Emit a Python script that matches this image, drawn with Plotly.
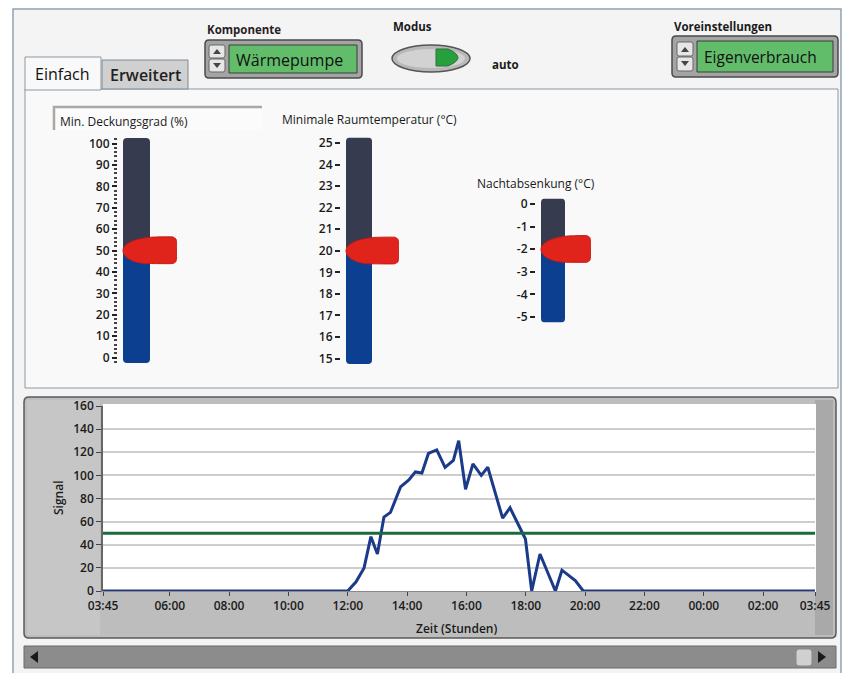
import numpy as np
import plotly.graph_objects as go

W, H = 851, 673
FONT = "Open Sans"

# ---------------- data ----------------
zeit_h = [3.75, 12.0, 12.28, 12.55, 12.78, 13.0, 13.22, 13.44, 13.78, 14.06, 14.28,
          14.5, 14.72, 15.0, 15.28, 15.56, 15.74, 15.97, 16.22, 16.5, 16.72, 17.22,
          17.47, 17.99, 18.2, 18.48, 19.0, 19.22, 19.67, 19.94, 27.75]
signal = [0, 0, 8, 20, 47, 32, 64, 68, 90, 96, 103,
          102, 119, 122, 107, 113, 130, 88, 110, 100, 107, 63,
          72, 45, 0, 32, 0, 18, 9, 0, 0]
schwellwert = 50
x_tickvals = [3.75, 6, 8, 10, 12, 14, 16, 18, 20, 22, 24, 26, 27.75]
x_ticktext = ["03:45", "06:00", "08:00", "10:00", "12:00", "14:00", "16:00",
              "18:00", "20:00", "22:00", "00:00", "02:00", "03:45"]
y_tickvals = [0, 20, 40, 60, 80, 100, 120, 140, 160]

slider_labels = ["Min. Deckungsgrad (%)", "Minimale Raumtemperatur (°C)", "Nachtabsenkung (°C)"]
slider_values = [50, 20, -2]
slider_min = [0, 15, -5]
slider_max = [100, 25, 0]
slider_dtick = [10, 1, 1]

komponente = "Wärmepumpe"
modus = "auto"
voreinstellung = "Eigenverbrauch"
tabs = ["Einfach", "Erweitert"]

# ---------------- helpers ----------------
def px(x):
    return x / W

def py(y):
    return 1 - y / H

def pt(x, y):
    return f"{px(x):.5f},{py(y):.5f}"

def rrect_path(x0, y0, x1, y1, r):
    return (f"M{pt(x0 + r, y0)} L{pt(x1 - r, y0)} Q{pt(x1, y0)} {pt(x1, y0 + r)} "
            f"L{pt(x1, y1 - r)} Q{pt(x1, y1)} {pt(x1 - r, y1)} L{pt(x0 + r, y1)} "
            f"Q{pt(x0, y1)} {pt(x0, y1 - r)} L{pt(x0, y0 + r)} Q{pt(x0, y0)} {pt(x0 + r, y0)} Z")

shapes = []
annotations = []

def add_rect(x0, y0, x1, y1, fill, line=None, lw=1, r=0, layer="below"):
    ln = dict(color=line, width=lw) if line else dict(width=0)
    if r:
        shapes.append(dict(type="path", xref="paper", yref="paper",
                           path=rrect_path(x0, y0, x1, y1, r), fillcolor=fill,
                           line=ln, layer=layer))
    else:
        shapes.append(dict(type="rect", xref="paper", yref="paper",
                           x0=px(x0), x1=px(x1), y0=py(y1), y1=py(y0),
                           fillcolor=fill, line=ln, layer=layer))

def add_path(points, fill, line=None, lw=1, close=True, layer="below"):
    p = "M" + " L".join(pt(x, y) for x, y in points) + (" Z" if close else "")
    ln = dict(color=line, width=lw) if line else dict(width=0)
    shapes.append(dict(type="path", xref="paper", yref="paper", path=p,
                       fillcolor=fill if close else None, line=ln, layer=layer))

def add_text(x, y, text, size=11, color="#1a1a1a", weight="normal", xanchor="left",
             yanchor="middle", angle=0):
    annotations.append(dict(x=px(x), y=py(y), xref="paper", yref="paper", text=text,
                            showarrow=False, xanchor=xanchor, yanchor=yanchor,
                            textangle=angle,
                            font=dict(family=FONT, size=size, color=color, weight=weight)))

# ---------------- UI frame ----------------
add_rect(13, 9, 841, 680, "#f4f4f4", "#8fa2b3", 1.5)
# tab panel
add_rect(25, 89, 838, 388, "#f9f9f9", "#8b99a5", 1)
# tabs
add_rect(102, 60, 188, 89, "#d0d0d0", "#7d8b97", 1)
add_path([(25, 90), (25, 57), (101, 57), (101, 90)], "#f9f9f9", "#8b99a5", 1)
add_text(62, 74, tabs[0], size=16, color="#111", xanchor="center")
add_text(145, 75, tabs[1], size=16, color="#222", xanchor="center", weight=600)

# Komponente control
add_text(205, 30, "Komponente", size=11.5, color="#2a1f1f", weight="bold")
add_rect(205, 40, 362, 78, "#a4a4a4", "#4a4a4a", 1.5, r=4)
add_rect(229, 45, 357, 73, "#62bd6b", "#3d3d3d", 1)
add_text(234, 60, komponente, size=16, color="#111")
add_rect(209, 45, 225, 58, "#e6e6e6", "#666", 1, r=2)
add_rect(209, 59, 225, 72, "#e6e6e6", "#666", 1, r=2)
add_path([(213, 54), (217, 49), (221, 54)], "#444")
add_path([(213, 63), (217, 68), (221, 63)], "#444")

# Modus toggle
add_text(412, 27, "Modus", size=11.5, color="#1a1a1a", weight="bold", xanchor="center")
shapes.append(dict(type="circle", xref="paper", yref="paper", x0=px(392), x1=px(470),
                   y0=py(72), y1=py(45), fillcolor="#b8b8b8",
                   line=dict(color="#555", width=1.5), layer="below"))
shapes.append(dict(type="circle", xref="paper", yref="paper", x0=px(397), x1=px(465),
                   y0=py(68), y1=py(49), fillcolor="#d2d2d2",
                   line=dict(width=0), layer="below"))
shapes.append(dict(type="path", xref="paper", yref="paper",
                   path=f"M{pt(436, 49)} L{pt(448, 49)} Q{pt(468, 57.5)} {pt(448, 66)} L{pt(436, 66)} Z",
                   fillcolor="#24a03c", line=dict(color="#3a6a3a", width=1), layer="below"))
add_text(490, 64, modus, size=11.5, color="#1a1a1a", weight="bold")

# Voreinstellungen control
add_text(672, 27, "Voreinstellungen", size=11.5, color="#1a1a1a", weight="bold")
add_rect(672, 36, 838, 77, "#a4a4a4", "#4a4a4a", 1.5, r=4)
add_rect(697, 41, 833, 72, "#62bd6b", "#3d3d3d", 1)
add_text(702, 57, voreinstellung, size=15.5, color="#111")
add_rect(677, 42, 693, 56, "#e6e6e6", "#666", 1, r=2)
add_rect(677, 57, 693, 71, "#e6e6e6", "#666", 1, r=2)
add_path([(681, 52), (685, 47), (689, 52)], "#444")
add_path([(681, 61), (685, 66), (689, 61)], "#444")

# slider label box (first slider)
add_rect(54, 107, 262, 130, "#fbfbfb")
add_path([(54, 130), (54, 107), (262, 107)], None, "#a8a8a8", 2.5, close=False)

# chart panel
add_rect(24, 397, 836, 638, "#bdbdbd", "#5a5a5a", 1.5, r=5)
add_rect(27, 400, 100, 635, "#c6c6c6")
add_rect(815, 400, 833, 635, "#a9a9a9")
add_rect(103, 404, 816, 592, "#ffffff")

# scrollbar
add_rect(24, 646, 836, 668, "#8c8c8c", "#6a6a6a", 1)
add_path([(38, 651), (30, 657), (38, 663)], "#1a1a1a")
add_path([(818, 651), (826, 657), (818, 663)], "#1a1a1a")
add_rect(796, 649, 812, 666, "#d0d0d0", "#888", 1, r=3)

# ---------------- figure ----------------
fig = go.Figure()

fig.add_trace(go.Scatter(x=zeit_h, y=signal, mode="lines", xaxis="x", yaxis="y",
                         line=dict(color="#1b3a8a", width=3), cliponaxis=False,
                         showlegend=False))
fig.add_trace(go.Scatter(x=[x_tickvals[0], x_tickvals[-1]], y=[schwellwert, schwellwert],
                         mode="lines", xaxis="x", yaxis="y",
                         line=dict(color="#1a6b3c", width=3), showlegend=False))

TICKFONT = dict(family=FONT, size=12, color="#1a1a1a", weight=600)

layout_axes = {}
layout_axes["xaxis"] = dict(domain=[px(103), px(815)], range=[x_tickvals[0], x_tickvals[-1]],
                            tickvals=x_tickvals, ticktext=x_ticktext, ticks="outside",
                            ticklen=4, tickcolor="#444", showgrid=False, zeroline=False,
                            showline=True, linecolor="#8a8a8a", linewidth=1,
                            tickfont=TICKFONT, automargin=False,
                            anchor="y", fixedrange=True)
layout_axes["yaxis"] = dict(domain=[py(591), py(406)], range=[0, 160],
                            tickvals=y_tickvals, ticks="outside", ticklen=5,
                            tickcolor="#444", showgrid=True, gridcolor="#cdcdcd",
                            gridwidth=1.5, zeroline=False, showline=True,
                            linecolor="#666", linewidth=1.5,
                            tickfont=TICKFONT, automargin=False,
                            anchor="x", fixedrange=True)
add_text(58, 497, "Signal", size=12, color="#1a1a1a", xanchor="center", angle=-90, weight=600)
add_text(456, 628, "Zeit (Stunden)", size=12, color="#1a1a1a", xanchor="center", weight=600)

# sliders
geom = [dict(bar_l=123, bar_r=150, ptr_r=177, ymax_px=143.5, ymin_px=357.5,
             lab_x=58, lab_y=121),
        dict(bar_l=346, bar_r=372, ptr_r=399, ymax_px=143, ymin_px=358.5,
             lab_x=280, lab_y=119),
        dict(bar_l=541, bar_r=565, ptr_r=591, ymax_px=204, ymin_px=317,
             lab_x=475, lab_y=184)]
pad_px = 5.5
gap = 5
for i, g in enumerate(geom):
    n = i + 2
    lo, hi, v = slider_min[i], slider_max[i], slider_values[i]
    upp = (hi - lo) / (g["ymin_px"] - g["ymax_px"])
    r0, r1 = lo - pad_px * upp, hi + pad_px * upp
    bw = g["bar_r"] - g["bar_l"]
    xr = g["ptr_r"] - g["bar_l"] + gap
    xc = gap + bw / 2
    fig.add_trace(go.Bar(x=[xc], y=[r1 - v], base=[v], width=[bw], xaxis=f"x{n}", yaxis=f"y{n}",
                         marker=dict(color="#363b4f", line=dict(width=0), cornerradius=4),
                         showlegend=False))
    fig.add_trace(go.Bar(x=[xc], y=[r0 - v], base=[v], width=[bw], xaxis=f"x{n}", yaxis=f"y{n}",
                         marker=dict(color="#0c3f8f", line=dict(width=0), cornerradius=4),
                         showlegend=False))
    # pointer (bullet shape, tip at the value)
    h_top, h_bot = 13.5 * upp, 13.0 * upp
    a_top, a_bot = 34, 24
    t1 = np.linspace(np.pi / 2, np.pi, 20)
    t2 = np.linspace(np.pi, 3 * np.pi / 2, 20)[1:]
    xs = list(gap + a_top + a_top * np.cos(t1)) + list(gap + a_bot + a_bot * np.cos(t2))
    ys = list(v + h_top * np.sin(t1)) + list(v + h_bot * np.sin(t2))
    xe = xr
    xs += [xe - 4, xe - 1, xe, xe - 1, xe - 4, xs[0]]
    ys += [v - h_bot, v - h_bot + 2 * upp, v, v + h_top - 2 * upp, v + h_top, ys[0]]
    fig.add_trace(go.Scatter(x=xs, y=ys, mode="lines", fill="toself", fillcolor="#e0231b",
                             line=dict(color="#c81a14", width=1, shape="spline", smoothing=0.3),
                             xaxis=f"x{n}", yaxis=f"y{n}",
                             showlegend=False, hoverinfo="skip"))
    tv = [float(t) for t in np.arange(lo, hi + slider_dtick[i] / 2, slider_dtick[i])]
    tt = [f"{t:g}" for t in tv]
    yax = dict(domain=[py(g["ymin_px"] + pad_px), py(g["ymax_px"] - pad_px)],
               range=[r0, r1], tickvals=tv, ticktext=tt, ticks="outside", ticklen=5,
               tickcolor="#222", tickwidth=1.5, showgrid=False, zeroline=False,
               showline=False, tickfont=TICKFONT, automargin=False,
               anchor=f"x{n}", fixedrange=True)
    if i == 0:
        yax["minor"] = dict(dtick=2, ticks="outside", ticklen=3, tickcolor="#444")
    layout_axes[f"yaxis{n}"] = yax
    layout_axes[f"xaxis{n}"] = dict(domain=[px(g["bar_l"] - gap), px(g["ptr_r"])],
                                    range=[0, xr], visible=False, anchor=f"y{n}",
                                    automargin=False, fixedrange=True)
    add_text(g["lab_x"], g["lab_y"], slider_labels[i], size=12, color="#1a1a1a")

fig.update_layout(width=W, height=H,
                  margin=dict(l=0, r=0, t=0, b=0, pad=0, autoexpand=False),
                  paper_bgcolor="#ffffff", plot_bgcolor="rgba(0,0,0,0)",
                  barmode="overlay", showlegend=False, shapes=shapes,
                  annotations=annotations, font=dict(family=FONT), **layout_axes)

fig.write_html("out.html", config=dict(displayModeBar=False, staticPlot=False),
               post_script="document.body.style.margin='0';document.body.style.overflow='hidden';")
